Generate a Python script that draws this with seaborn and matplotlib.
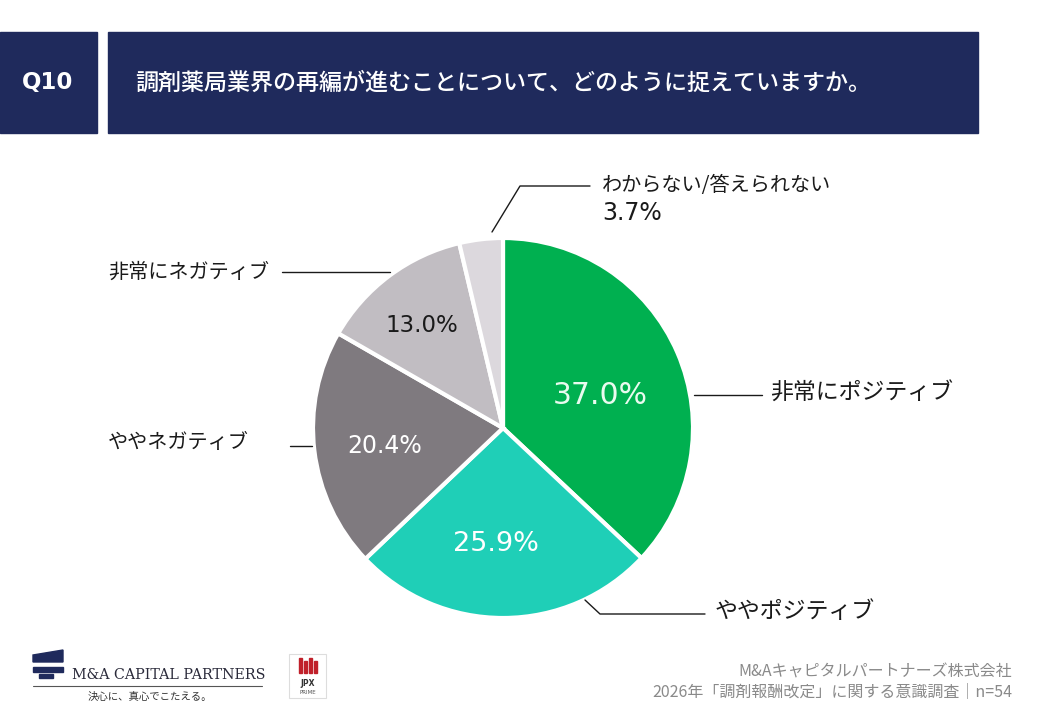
import numpy as np
import matplotlib
matplotlib.use("Agg")
import matplotlib.pyplot as plt
from matplotlib.patches import Rectangle, Polygon
import seaborn as sns

# data
labels = ["非常にポジティブ", "ややポジティブ", "ややネガティブ", "非常にネガティブ", "わからない/答えられない"]
values = [37.0, 25.9, 20.4, 13.0, 3.7]
colors = ["#00b050", "#1fcfb7", "#7f7a7f", "#c1bdc2", "#dcd8dd"]
pct_colors = ["#e9fbef", "#ffffff", "#ffffff", "#1a1a1a", "#1a1a1a"]
pct_sizes = [21.5, 19.5, 17, 16.5, 0]
pct_dist = [0.54, 0.61, 0.63, 0.69, 0.6]
pct_turn = [-5, -3.7, 1.8, 1.8, 0]

title = "調剤薬局業界の再編が進むことについて、どのように捉えていますか。"
qnum = "Q10"
source_1 = "M&Aキャピタルパートナーズ株式会社"
source_2 = "2026年「調剤報酬改定」に関する意識調査｜n=54"

sns.set_theme(style="white")
plt.rcParams['font.family'] = ['Noto Sans CJK JP', 'DejaVu Sans']

W, H = 1040, 720
fig = plt.figure(figsize=(10.4, 7.2), dpi=100)
ax = fig.add_axes([0, 0, 1, 1])

def Y(py):
    return H - py

navy = "#1f2a5c"
# header bands
ax.add_patch(Rectangle((0, Y(133)), 97, 101, color=navy))
ax.add_patch(Rectangle((108, Y(133)), 870, 101, color=navy))
ax.text(48, Y(83), qnum, color="white", fontsize=16.5, fontweight="bold",
        family="DejaVu Sans", ha="center", va="center")
ax.text(135, Y(83), title, color="white", fontsize=16.6, fontweight="medium",
        ha="left", va="center")

# pie
cx, cy, R = 503, Y(428), 190
wedges, _ = ax.pie(values, colors=colors, startangle=90, counterclock=False,
                   center=(cx, cy), radius=R, frame=True,
                   wedgeprops=dict(edgecolor="white", linewidth=3))
ax.set_xlim(0, W)
ax.set_ylim(0, H)
ax.set_aspect("equal")
ax.axis("off")

for w, v, c, s, d, t in zip(wedges, values, pct_colors, pct_sizes, pct_dist, pct_turn):
    if s == 0:
        continue
    ang = np.deg2rad((w.theta1 + w.theta2) / 2 + t)
    x = cx + R * d * np.cos(ang)
    y = cy + R * d * np.sin(ang)
    ax.text(x, y, f"{v:.1f}%", color=c, fontsize=s, family="DejaVu Sans",
            ha="center", va="center")

lc = "#1a1a1a"
# leader lines and category labels
ax.plot([694, 762], [Y(395), Y(395)], color=lc, lw=1)
ax.text(770, Y(393), labels[0], fontsize=16.5, ha="left", va="center", color=lc)

ax.plot([585, 600, 705], [Y(600), Y(614), Y(614)], color=lc, lw=1)
ax.text(715, Y(611), labels[1], fontsize=16.5, ha="left", va="center", color=lc)

ax.plot([290, 312], [Y(446), Y(446)], color=lc, lw=1)
ax.text(108, Y(443), labels[2], fontsize=14.5, ha="left", va="center", color=lc)

ax.plot([282, 390], [Y(272), Y(272)], color=lc, lw=1)
ax.text(108, Y(272), labels[3], fontsize=14.5, ha="left", va="center", color=lc)

ax.plot([492, 520, 590], [Y(232), Y(186), Y(186)], color=lc, lw=1)
ax.text(602, Y(185), labels[4], fontsize=14.5, ha="left", va="center", color=lc)
ax.text(602, Y(213), f"{values[4]:.1f}%", fontsize=17, family="DejaVu Sans",
        ha="left", va="center", color=lc)

# footer
ax.text(1012, Y(672), source_1, fontsize=11.5, color="#8a8a8a", ha="right", va="center")
ax.text(1012, Y(692), source_2, fontsize=11.5, color="#8a8a8a", ha="right", va="center")

# company logo (rough)
ax.add_patch(Polygon([(33, Y(662)), (33, Y(655)), (63, Y(650)), (63, Y(662))],
                     closed=True, color=navy))
ax.add_patch(Rectangle((33, Y(672)), 30, 5, color=navy))
ax.add_patch(Rectangle((39, Y(678)), 14, 4, color=navy))
ax.text(72, Y(675), "M&A CAPITAL PARTNERS", fontsize=10.3, family="DejaVu Serif",
        color="#2a2a3a", ha="left", va="center")
ax.plot([33, 262], [Y(686), Y(686)], color="#555", lw=0.8)
ax.text(88, Y(697), "決心に、真心でこたえる。", fontsize=7.5, color="#333", ha="left", va="center")

# JPX mark
ax.add_patch(Rectangle((289, Y(698)), 37, 44, facecolor="white", edgecolor="#dddddd", lw=0.8))
for i, xx in enumerate([299, 304, 309, 314]):
    ax.add_patch(Rectangle((xx, Y(673)), 3, 15 - i % 2 * 3, color="#c0202a"))
ax.text(307.5, Y(684), "JPX", fontsize=5.5, fontweight="bold", color="#333",
        family="DejaVu Sans", ha="center", va="center")
ax.text(307.5, Y(693), "PRIME", fontsize=4, color="#555", family="DejaVu Sans",
        ha="center", va="center")

fig.savefig("out.png", dpi=100, facecolor="white")
